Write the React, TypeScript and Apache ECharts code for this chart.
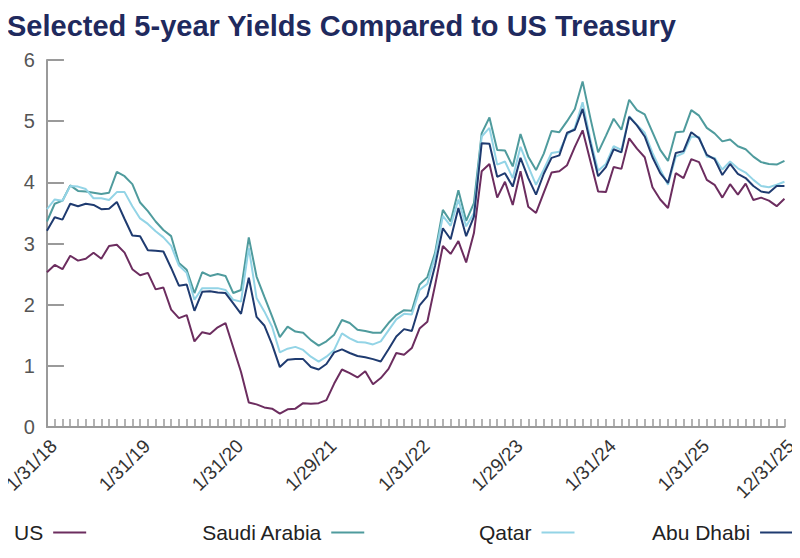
import React, { useEffect, useRef } from "react";
import * as echarts from "echarts";

// Month-end observation dates, Jan 2018 – Dec 2025
const dates: string[] = [
  "1/31/18", "2/28/18", "3/30/18", "4/30/18", "5/31/18", "6/29/18", "7/31/18", "8/31/18", "9/28/18", "10/31/18", "11/30/18", "12/31/18",
  "1/31/19", "2/28/19", "3/29/19", "4/30/19", "5/31/19", "6/28/19", "7/31/19", "8/30/19", "9/30/19", "10/31/19", "11/29/19", "12/31/19",
  "1/31/20", "2/28/20", "3/31/20", "4/30/20", "5/29/20", "6/30/20", "7/31/20", "8/31/20", "9/30/20", "10/30/20", "11/30/20", "12/31/20",
  "1/29/21", "2/26/21", "3/31/21", "4/30/21", "5/31/21", "6/30/21", "7/30/21", "8/31/21", "9/30/21", "10/29/21", "11/30/21", "12/31/21",
  "1/31/22", "2/28/22", "3/31/22", "4/29/22", "5/31/22", "6/30/22", "7/29/22", "8/31/22", "9/30/22", "10/31/22", "11/30/22", "12/30/22",
  "1/29/23", "2/28/23", "3/31/23", "4/28/23", "5/31/23", "6/30/23", "7/31/23", "8/31/23", "9/29/23", "10/31/23", "11/30/23", "12/29/23",
  "1/31/24", "2/29/24", "3/29/24", "4/30/24", "5/31/24", "6/28/24", "7/31/24", "8/30/24", "9/30/24", "10/31/24", "11/29/24", "12/31/24",
  "1/31/25", "2/28/25", "3/31/25", "4/30/25", "5/30/25", "6/30/25", "7/31/25", "8/29/25", "9/30/25", "10/31/25", "11/28/25", "12/31/25",
];

// Dates that carry an axis label
const labelledDates: string[] = [
  "1/31/18", "1/31/19", "1/31/20", "1/29/21", "1/31/22", "1/29/23", "1/31/24", "1/31/25", "12/31/25",
];

// 5-year yields, %
const us: number[] = [
  2.53, 2.65, 2.58, 2.80, 2.72, 2.75, 2.85, 2.75, 2.96, 2.98, 2.85, 2.58,
  2.48, 2.52, 2.25, 2.28, 1.92, 1.78, 1.83, 1.40, 1.55, 1.52, 1.63, 1.70,
  1.30, 0.90, 0.40, 0.37, 0.32, 0.30, 0.22, 0.29, 0.30, 0.39, 0.38, 0.39,
  0.44, 0.71, 0.94, 0.88, 0.81, 0.91, 0.70, 0.80, 0.95, 1.21, 1.18, 1.29,
  1.61, 1.72, 2.32, 2.96, 2.83, 3.04, 2.69, 3.17, 4.18, 4.30, 3.75, 4.01,
  3.63, 4.18, 3.60, 3.50, 3.83, 4.16, 4.18, 4.28, 4.58, 4.85, 4.35, 3.85,
  3.84, 4.25, 4.22, 4.72, 4.55, 4.41, 3.92, 3.72, 3.58, 4.15, 4.07, 4.38,
  4.33, 4.04, 3.96, 3.75, 3.97, 3.80, 3.98, 3.71, 3.75, 3.70, 3.61, 3.73,
];

const saudiArabia: number[] = [
  3.36, 3.65, 3.70, 3.95, 3.86, 3.85, 3.83, 3.81, 3.83, 4.17, 4.10, 3.97,
  3.67, 3.53, 3.36, 3.22, 3.12, 2.68, 2.57, 2.19, 2.53, 2.47, 2.50, 2.47,
  2.19, 2.24, 3.10, 2.46, 2.13, 1.81, 1.47, 1.64, 1.56, 1.54, 1.42, 1.33,
  1.40, 1.51, 1.75, 1.70, 1.59, 1.57, 1.54, 1.54, 1.70, 1.83, 1.91, 1.90,
  2.33, 2.45, 2.85, 3.55, 3.36, 3.87, 3.37, 3.66, 4.80, 5.06, 4.53, 4.52,
  4.26, 4.79, 4.42, 4.20, 4.47, 4.84, 4.82, 5.00, 5.20, 5.65, 5.05, 4.49,
  4.76, 5.04, 4.86, 5.35, 5.18, 5.11, 4.82, 4.53, 4.35, 4.82, 4.83, 5.18,
  5.09, 4.89, 4.80, 4.67, 4.70, 4.59, 4.54, 4.42, 4.33, 4.30, 4.29, 4.35,
];

const qatar: number[] = [
  3.56, 3.72, 3.70, 3.94, 3.93, 3.89, 3.74, 3.74, 3.71, 3.84, 3.84, 3.61,
  3.41, 3.32, 3.20, 3.10, 2.96, 2.64, 2.52, 2.08, 2.27, 2.27, 2.27, 2.24,
  2.08, 2.05, 2.93, 2.11, 1.89, 1.64, 1.22, 1.28, 1.31, 1.26, 1.15, 1.07,
  1.15, 1.26, 1.53, 1.45, 1.39, 1.38, 1.35, 1.40, 1.58, 1.76, 1.85, 1.84,
  2.24, 2.34, 2.79, 3.45, 3.29, 3.72, 3.28, 3.50, 4.75, 4.89, 4.29, 4.34,
  4.07, 4.58, 4.26, 3.96, 4.21, 4.48, 4.50, 4.78, 4.89, 5.31, 4.70, 4.19,
  4.30, 4.59, 4.53, 5.08, 4.94, 4.81, 4.48, 4.21, 3.96, 4.42, 4.48, 4.75,
  4.74, 4.42, 4.40, 4.21, 4.34, 4.23, 4.16, 4.04, 3.94, 3.92, 3.96, 4.01,
];

const abuDhabi: number[] = [
  3.21, 3.43, 3.39, 3.65, 3.61, 3.65, 3.63, 3.56, 3.57, 3.68, 3.40, 3.13,
  3.12, 2.89, 2.88, 2.87, 2.60, 2.31, 2.33, 1.90, 2.21, 2.22, 2.20, 2.19,
  2.02, 1.85, 2.44, 1.80, 1.66, 1.35, 0.98, 1.10, 1.11, 1.11, 0.98, 0.94,
  1.03, 1.22, 1.27, 1.21, 1.16, 1.14, 1.11, 1.07, 1.27, 1.48, 1.60, 1.57,
  1.99, 2.14, 2.64, 3.25, 3.07, 3.58, 3.12, 3.44, 4.64, 4.63, 4.09, 4.15,
  3.93, 4.40, 4.07, 3.80, 4.14, 4.40, 4.44, 4.81, 4.86, 5.20, 4.64, 4.10,
  4.25, 4.54, 4.49, 5.07, 4.93, 4.75, 4.41, 4.15, 3.99, 4.48, 4.51, 4.82,
  4.72, 4.45, 4.38, 4.12, 4.30, 4.14, 4.07, 3.94, 3.85, 3.83, 3.94, 3.94,
];

const seriesNames = ["US", "Saudi Arabia", "Qatar", "Abu Dhabi"];
const seriesData = [us, saudiArabia, qatar, abuDhabi];
const seriesColors = ["#6c2d5f", "#4f9b9d", "#93d4e6", "#1f3b70"];
const legendLeft = [9, 196, 474, 647];

const FONT = "'Liberation Sans', Arial, sans-serif";

export default function App() {
  const ref = useRef<HTMLDivElement>(null);

  useEffect(() => {
    if (!ref.current) return;
    const chart = echarts.init(ref.current, undefined, { renderer: "svg" });

    chart.setOption({
      animation: false,
      backgroundColor: "#ffffff",
      title: {
        text: "Selected 5-year Yields Compared to US Treasury",
        left: 2,
        top: 6,
        textStyle: {
          fontFamily: FONT,
          fontSize: 29,
          fontWeight: "bold",
          color: "#1f2a5e",
        },
      },
      legend: seriesNames.map((name, i) => ({
        data: [name],
        left: legendLeft[i],
        top: 517,
        align: "right",
        icon: "rect",
        itemWidth: 33,
        itemHeight: 2,
        textStyle: {
          fontFamily: FONT,
          fontSize: 21,
          color: "#222222",
          padding: [0, 5, 0, 0],
        },
      })),
      grid: { left: 46, right: 14, top: 60, bottom: 131, containLabel: false },
      xAxis: {
        type: "category",
        data: dates,
        boundaryGap: false,
        axisLine: { lineStyle: { color: "#9a9a9a", width: 2 } },
        axisTick: {
          inside: true,
          length: 8,
          interval: 0,
          lineStyle: { color: "#9a9a9a", width: 1.5 },
        },
        axisLabel: {
          interval: (_idx: number, value: string) => labelledDates.includes(value),
          rotate: 45,
          margin: 9,
          verticalAlign: "top",
          fontFamily: FONT,
          fontSize: 19,
          color: "#333333",
        },
        splitLine: { show: false },
      },
      yAxis: {
        type: "value",
        min: 0,
        max: 6,
        interval: 1,
        axisLine: { show: true, lineStyle: { color: "#9a9a9a", width: 2 } },
        axisTick: {
          show: true,
          inside: true,
          length: 17,
          lineStyle: { color: "#9a9a9a", width: 2 },
        },
        axisLabel: {
          margin: 12,
          fontFamily: FONT,
          fontSize: 20,
          color: "#555555",
        },
        splitLine: { show: false },
      },
      series: seriesNames.map((name, i) => ({
        name,
        type: "line",
        data: seriesData[i],
        symbol: "none",
        lineStyle: { color: seriesColors[i], width: 2 },
        itemStyle: { color: seriesColors[i] },
      })),
    });

    return () => chart.dispose();
  }, []);

  return <div ref={ref} style={{ width: 800, height: 558, margin: -8 }} />;
}
